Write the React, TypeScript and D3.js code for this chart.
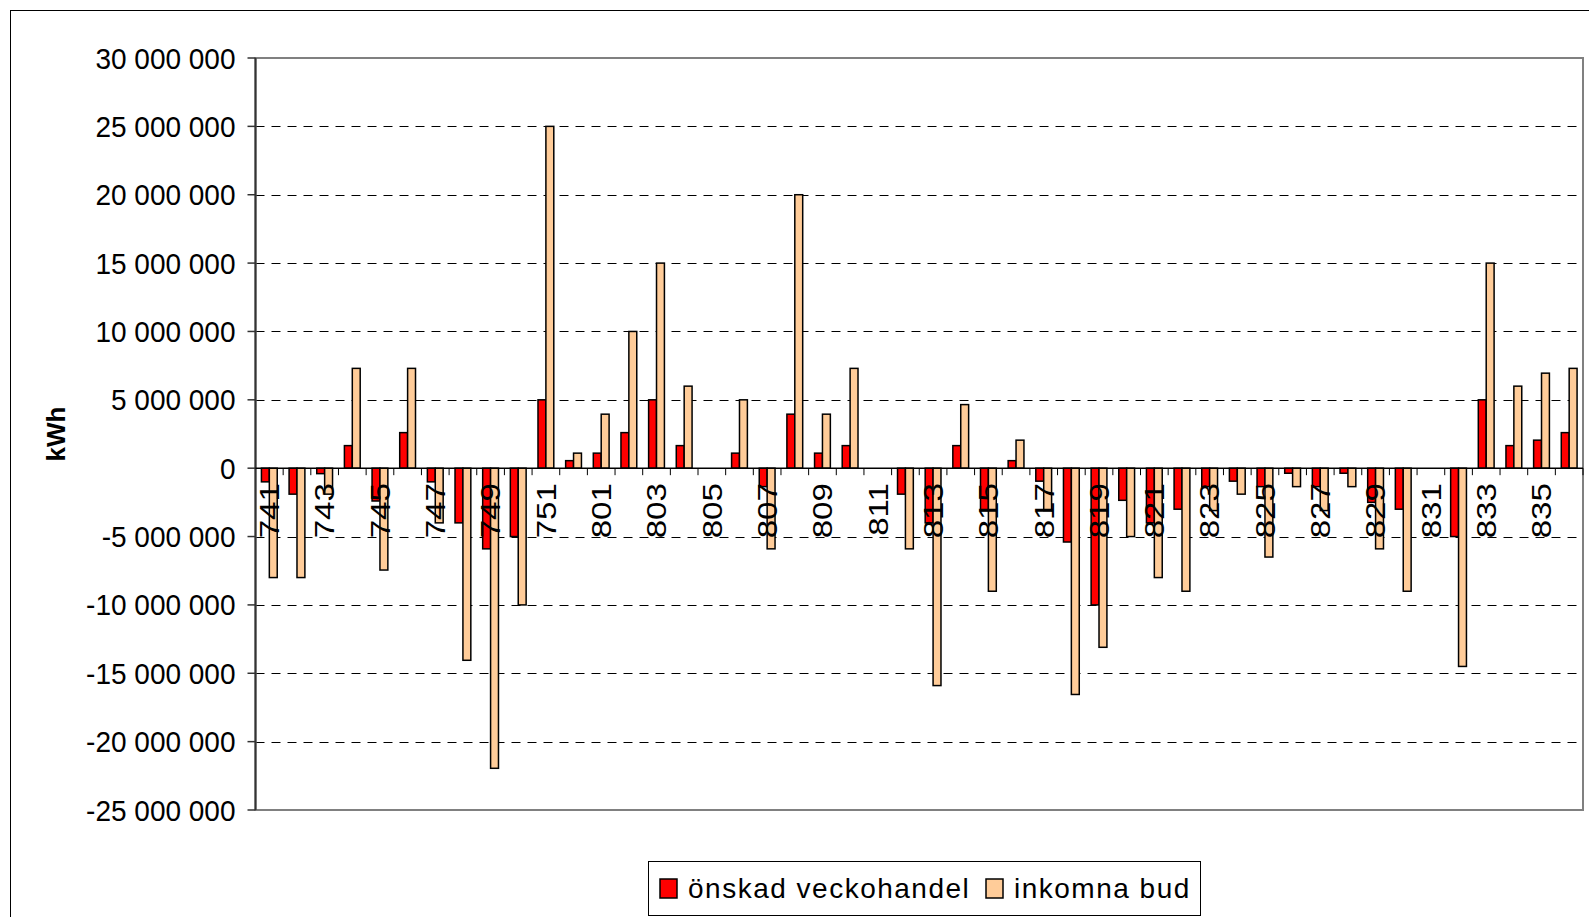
import React from "react";
import * as d3 from "d3";

// veckor (vecka 741 .. 836)
const weeks = [
  "741", "742", "743", "744", "745", "746", "747", "748", "749", "750", "751", "752",
  "801", "802", "803", "804", "805", "806", "807", "808", "809", "810", "811", "812",
  "813", "814", "815", "816", "817", "818", "819", "820", "821", "822", "823", "824",
  "825", "826", "827", "828", "829", "830", "831", "832", "833", "834", "835", "836",
];

// önskad veckohandel, in millions of kWh
const onskad: (number | null)[] = [
  -1.0, -1.9, -0.4, 1.65, -2.4, 2.6, -1.0, -4.0, -5.9, -5.0, 5.0, 0.55,
  1.1, 2.6, 5.0, 1.65, null, 1.1, -1.35, 3.95, 1.1, 1.65, null, -1.9,
  -4.0, 1.65, -3.1, 0.55, -0.95, -5.4, -10.0, -2.35, -4.0, -3.0, -1.35, -0.95,
  -1.35, -0.37, -1.35, -0.37, -2.5, -3.0, null, -5.0, 5.0, 1.65, 2.05, 2.6,
];

// inkomna bud, in millions of kWh
const inkomna: (number | null)[] = [
  -8.0, -8.0, -1.9, 7.3, -7.45, 7.3, -4.0, -14.05, -21.95, -10.0, 25.0, 1.1,
  3.95, 10.0, 15.0, 6.0, null, 5.0, -5.9, 20.0, 3.95, 7.3, null, -5.9,
  -15.9, 4.65, -9.0, 2.05, -3.1, -16.55, -13.1, -5.0, -8.0, -9.0, -3.1, -1.9,
  -6.5, -1.35, -3.1, -1.35, -5.9, -9.0, null, -14.5, 15.0, 6.0, 6.95, 7.3,
];

const yTicks = [30, 25, 20, 15, 10, 5, 0, -5, -10, -15, -20, -25];
const seriesNames = ["önskad veckohandel", "inkomna bud"];
const seriesColors = ["#FF0000", "#FFCC99"];
const MILLION = 1e6;

const FONT = "'Liberation Sans', Arial, Helvetica, sans-serif";

const W = 1589;
const H = 917;
const margin = { top: 58, right: 6, bottom: 107, left: 255.5 };

const sv = d3.formatLocale({
  decimal: ",",
  thousands: " ",
  grouping: [3],
  currency: ["", " kr"],
  minus: "-",
});
const fmt = sv.format(",.0f");

export default function App() {
  const x = d3
    .scaleBand<string>()
    .domain(weeks)
    .range([margin.left, W - margin.right])
    .padding(0);

  // Excel-like gap width 150%
  const xs = d3
    .scaleBand<string>()
    .domain(seriesNames)
    .range([0, x.bandwidth()])
    .paddingInner(0)
    .paddingOuter(0.75);

  const y = d3
    .scaleLinear()
    .domain([-25 * MILLION, 30 * MILLION])
    .range([H - margin.bottom, margin.top]);

  const x0 = margin.left;
  const x1 = W - margin.right;
  const zero = y(0);
  const series = [onskad, inkomna];

  return (
    <svg
      width={W}
      height={H}
      style={{ position: "absolute", left: 0, top: 0, background: "#fff" }}
      fontFamily={FONT}
    >
      {/* chart area border */}
      <rect x={10.5} y={10.5} width={W + 20} height={H + 20} fill="#fff" stroke="#000" strokeWidth={1} />

      {/* gridlines */}
      {yTicks
        .filter((t) => t !== 0 && t !== 30 && t !== -25)
        .map((t) => (
          <line
            key={"g" + t}
            x1={x0}
            x2={x1}
            y1={Math.round(y(t * MILLION)) + 0.5}
            y2={Math.round(y(t * MILLION)) + 0.5}
            stroke="#000"
            strokeWidth={1}
            strokeDasharray="9,7"
          />
        ))}

      {/* plot area border */}
      <rect
        x={x0}
        y={margin.top}
        width={x1 - x0}
        height={H - margin.bottom - margin.top}
        fill="none"
        stroke="#808080"
        strokeWidth={2}
      />

      {/* bars */}
      {series.map((vals, si) =>
        vals.map((v, i) => {
          if (v == null) return null;
          const val = v * MILLION;
          const top = Math.min(y(val), zero);
          const h = Math.abs(y(val) - zero);
          return (
            <rect
              key={si + "-" + i}
              x={(x(weeks[i]) || 0) + (xs(seriesNames[si]) || 0)}
              y={top}
              width={xs.bandwidth()}
              height={h}
              fill={seriesColors[si]}
              stroke="#000"
              strokeWidth={1.5}
            />
          );
        })
      )}

      {/* y axis */}
      <line x1={x0} x2={x0} y1={margin.top} y2={H - margin.bottom} stroke="#333" strokeWidth={2} />
      {yTicks.map((t) => (
        <g key={"y" + t} transform={`translate(0,${y(t * MILLION)})`}>
          <line x1={x0 - 8} x2={x0} stroke="#333" strokeWidth={1.5} />
          <text
            transform={`translate(${x0 - 20},0) scale(1,1.08)`}
            dy="0.35em"
            textAnchor="end"
            fontSize={28}
            fill="#000"
          >
            {fmt(t * MILLION)}
          </text>
        </g>
      ))}

      {/* x axis at zero */}
      <line x1={x0} x2={x1} y1={zero} y2={zero} stroke="#000" strokeWidth={1.5} />
      {weeks.map((wk) => (
        <line
          key={"xt" + wk}
          x1={(x(wk) || 0) + x.bandwidth()}
          x2={(x(wk) || 0) + x.bandwidth()}
          y1={zero}
          y2={zero + 7}
          stroke="#000"
          strokeWidth={1}
        />
      ))}
      {weeks.map((wk, i) =>
        i % 2 === 0 ? (
          <text
            key={"xl" + wk}
            transform={`translate(${(x(wk) || 0) + x.bandwidth() / 2},${zero + 15}) rotate(-90) scale(1.18,1)`}
            textAnchor="end"
            dy="0.35em"
            fontSize={28}
            fill="#000"
          >
            {wk}
          </text>
        ) : null
      )}

      {/* y axis title */}
      <text
        transform={`translate(56,${(margin.top + H - margin.bottom) / 2}) rotate(-90)`}
        textAnchor="middle"
        dy="0.35em"
        fontSize={26}
        fontWeight="bold"
      >
        kWh
      </text>

      {/* legend */}
      <g>
        <rect x={648.5} y={861.5} width={552} height={54} fill="#fff" stroke="#000" strokeWidth={1} />
        {seriesNames.map((name, i) => {
          const lx = i === 0 ? 660 : 986;
          return (
            <g key={name}>
              <rect x={lx} y={879} width={17} height={19} fill={seriesColors[i]} stroke="#000" strokeWidth={1.5} />
              <text x={lx + 28} y={898} fontSize={28} letterSpacing={1.5} fill="#000">
                {name}
              </text>
            </g>
          );
        })}
      </g>
    </svg>
  );
}
